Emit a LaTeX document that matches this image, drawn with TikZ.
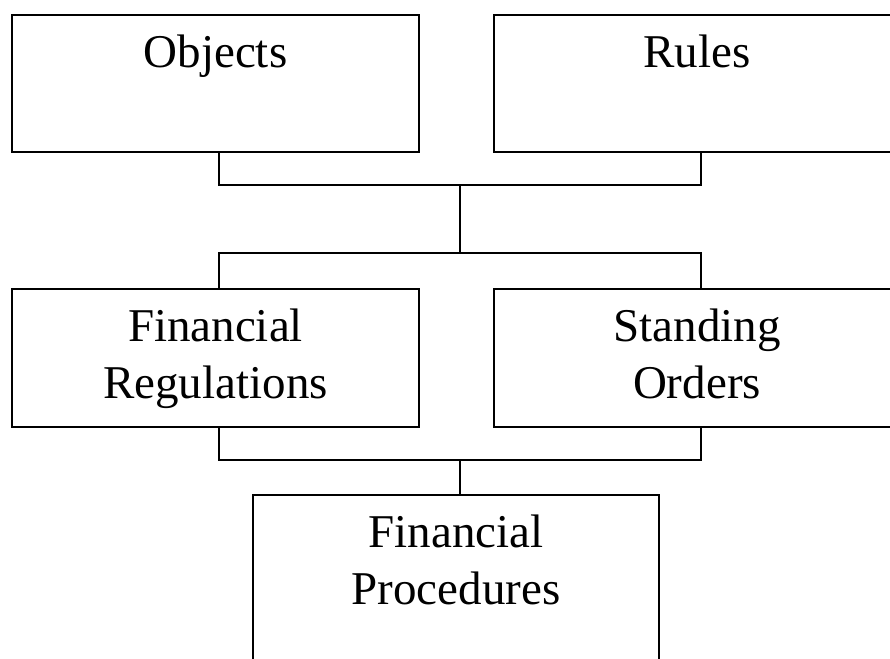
\documentclass[tikz,border=0pt]{standalone}
\usepackage{fontspec}
\setmainfont{Liberation Serif}
\usetikzlibrary{calc}
\begin{document}
\begin{tikzpicture}[x=0.5pt,y=-0.5pt,
  box/.style={draw, line width=1pt, anchor=north west, inner sep=0pt,
    align=center, font=\fontsize{23.5pt}{28.5pt}\selectfont},
  link/.style={draw, line width=1pt}]
\useasboundingbox (0,0) rectangle (890,659);
\clip (0,0) rectangle (890,659);
\node[box, minimum width=203.5pt, minimum height=68.5pt, text height=26pt, text depth=42.5pt] (objects) at (11,14) {Objects};
\node[box, minimum width=203pt, minimum height=68.5pt, text height=26pt, text depth=42.5pt] (rules) at (493,14) {Rules};
\node[box, minimum width=203.5pt, minimum height=69pt, text height=54.5pt, text depth=14.5pt] (finreg) at (11,288) {Financial\\Regulations};
\node[box, minimum width=203pt, minimum height=69pt, text height=54.5pt, text depth=14.5pt] (standing) at (493,288) {Standing\\Orders};
\node[box, minimum width=203pt, minimum height=100pt, text height=54.5pt, text depth=45.5pt] (finproc) at (252,494) {Financial\\Procedures};
\coordinate (j1) at (460,185);
\coordinate (j2) at (460,253);
\coordinate (j3) at (460,460);
\draw[link] ($(objects.south)+(3.5,0)$) |- (j1) -| ($(rules.south)+(3.5,0)$);
\draw[link] (j1) -- (j2);
\draw[link] ($(finreg.north)+(3.5,0)$) |- (j2) -| ($(standing.north)+(3.5,0)$);
\draw[link] ($(finreg.south)+(3.5,0)$) |- (j3) -| ($(standing.south)+(3.5,0)$);
\draw[link] (j3) -- (j3 |- finproc.north);
\end{tikzpicture}
\end{document}
